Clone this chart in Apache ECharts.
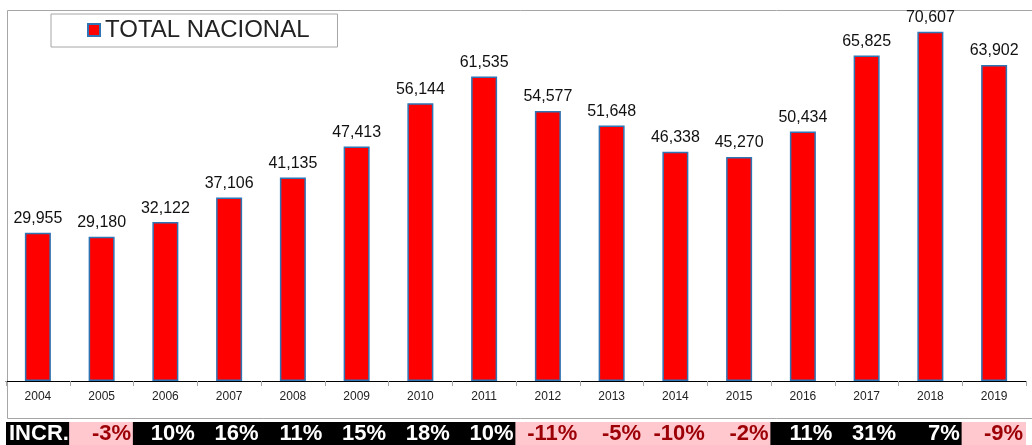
<!DOCTYPE html>
<html>
<head>
<meta charset="utf-8">
<script src="https://cdn.jsdelivr.net/npm/echarts@6/dist/echarts.min.js"></script>
<style>
html, body { margin: 0; padding: 0; background: #fff; }
#chart { width: 1032px; height: 445px; }
</style>
</head>
<body>
<div id="chart"></div>
<script>
// datos
var years = ['2004', '2005', '2006', '2007', '2008', '2009', '2010', '2011',
    '2012', '2013', '2014', '2015', '2016', '2017', '2018', '2019'];
var totalNacional = [29955, 29180, 32122, 37106, 41135, 47413, 56144, 61535,
    54577, 51648, 46338, 45270, 50434, 65825, 70607, 63902];
// incremento anual (%), el primero no tiene
var incr = [null, -3, 10, 16, 11, 15, 18, 10, -11, -5, -10, -2, 11, 31, 7, -9];

var chart = echarts.init(document.getElementById('chart'));

var incrData = incr.map(function (v) {
    var neg = v !== null && v < 0;
    return {
        value: 1,
        itemStyle: { color: neg ? '#ffc7ce' : '#000' },
        label: {
            position: v === null ? 'insideLeft' : 'insideRight',
            color: neg ? '#9c0006' : '#fff',
            distance: 3
        }
    };
});

chart.setOption({
    animation: false,
    textStyle: { fontFamily: 'Liberation Sans, Arial, sans-serif' },
    graphic: [
        // marco del area
        {
            type: 'rect',
            shape: { x: 7.5, y: 10.5, width: 1040, height: 408 },
            style: { fill: 'none', stroke: '#a6a6a6', lineWidth: 1 },
            z: -1
        }
    ],
    legend: {
        left: 51,
        top: 14,
        padding: [4, 28, 5, 36],
        backgroundColor: '#fff',
        borderColor: '#a6a6a6',
        borderWidth: 1,
        itemWidth: 12,
        itemHeight: 12,
        icon: 'rect',
        textStyle: { fontSize: 24, color: '#222', fontFamily: 'Liberation Sans, Arial, sans-serif' },
        data: ['TOTAL NACIONAL']
    },
    grid: [
        { left: 6, right: 6, top: 10, bottom: 64 },
        { left: 6, right: 6, top: 422, bottom: 0 }
    ],
    xAxis: [
        {
            type: 'category',
            gridIndex: 0,
            data: years,
            axisLine: { lineStyle: { color: '#000', width: 1 } },
            axisTick: { show: true, length: 5, lineStyle: { color: '#a6a6a6' } },
            axisLabel: { fontSize: 12, color: '#222', margin: 10 }
        },
        {
            type: 'category',
            gridIndex: 1,
            data: years,
            show: false
        }
    ],
    yAxis: [
        {
            type: 'value',
            gridIndex: 0,
            min: 0,
            max: 75000,
            show: false,
            splitLine: { show: false }
        },
        {
            type: 'value',
            gridIndex: 1,
            min: 0,
            max: 1,
            show: false
        }
    ],
    series: [
        {
            name: 'TOTAL NACIONAL',
            type: 'bar',
            xAxisIndex: 0,
            yAxisIndex: 0,
            barWidth: 26,
            data: totalNacional,
            itemStyle: { color: '#ff0000', borderColor: '#2e75b6', borderWidth: 1.5 },
            label: {
                show: true,
                position: 'top',
                distance: 6,
                fontSize: 16,
                color: '#111',
                formatter: function (p) {
                    return p.value.toLocaleString('en-US');
                }
            }
        },
        {
            name: 'INCR',
            type: 'bar',
            xAxisIndex: 1,
            yAxisIndex: 1,
            barWidth: 65,
            data: incrData,
            silent: true,
            label: {
                show: true,
                fontSize: 22,
                fontWeight: 'bold',
                formatter: function (p) {
                    var v = incr[p.dataIndex];
                    return v === null ? 'INCR.' : v + '%';
                }
            }
        }
    ]
});
</script>
</body>
</html>
